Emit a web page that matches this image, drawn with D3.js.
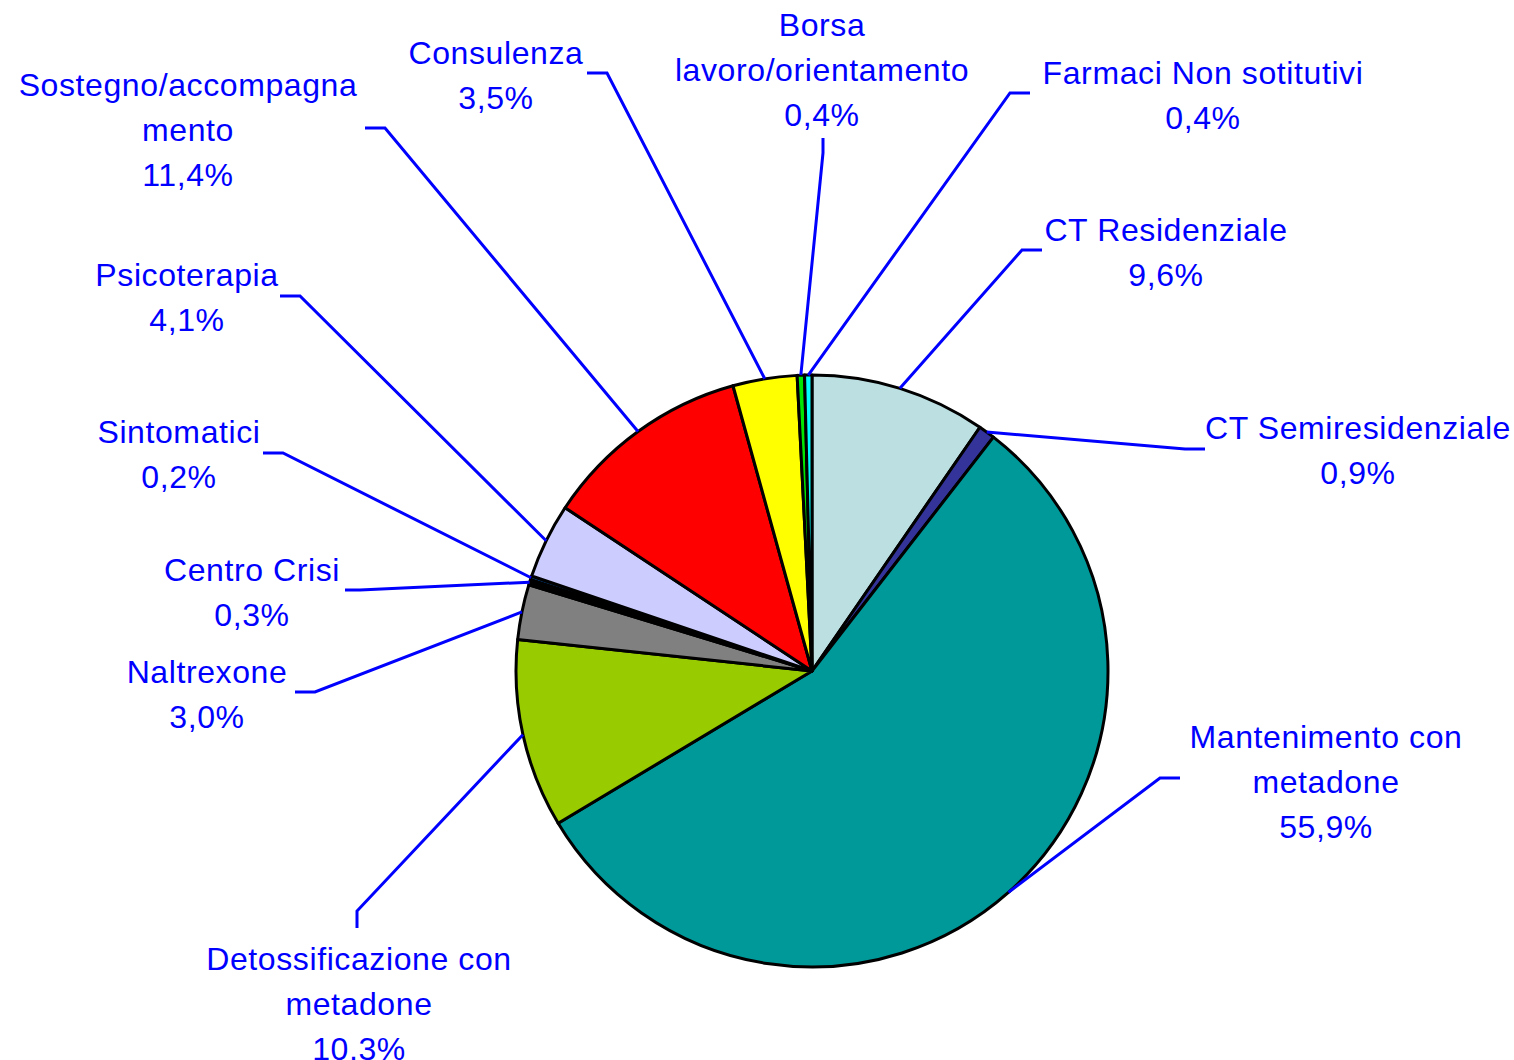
<!DOCTYPE html>
<html>
<head>
<meta charset="utf-8">
<script src="https://cdn.jsdelivr.net/npm/d3@7"></script>
<style>
  html, body { margin: 0; padding: 0; background: #fff; }
  svg { display: block; }
</style>
</head>
<body>
<div id="chart"></div>
<script>
// categorie (clockwise from 12 o'clock), "\n" = label line break
const categories = [
  "CT Residenziale",
  "CT Semiresidenziale",
  "Mantenimento con\nmetadone",
  "Detossificazione con\nmetadone",
  "Naltrexone",
  "Centro Crisi",
  "Sintomatici",
  "Psicoterapia",
  "Sostegno/accompagna\nmento",
  "Consulenza",
  "Borsa\nlavoro/orientamento",
  "Farmaci Non sotitutivi"
];
const values = [9.6, 0.9, 55.9, 10.3, 3.0, 0.3, 0.2, 4.1, 11.4, 3.5, 0.4, 0.4];
const colors = ["#BCE0E2", "#333399", "#009999", "#99CC00", "#808080", "#000000",
                "#0066CC", "#CCCCFF", "#FF0000", "#FFFF00", "#00E600", "#00FFFF"];

// posizione delle etichette (trascinate a mano nell'originale): [testoX, primaRigaY, gomito, fine]
const labelLayout = [
  { x: 1166, y: 230, elbow: [1022, 250], end: [1042, 250] },
  { x: 1358, y: 428, elbow: [1185, 449], end: [1205, 449] },
  { x: 1326, y: 737, elbow: [1160, 778], end: [1180, 778] },
  { x: 359,  y: 959, elbow: [357, 911],  end: [357, 928] },
  { x: 207,  y: 672, elbow: [315, 692],  end: [295, 692] },
  { x: 252,  y: 570, elbow: [360, 590],  end: [345, 590] },
  { x: 179,  y: 432, elbow: [283, 453],  end: [263, 453] },
  { x: 187,  y: 275, elbow: [300, 296],  end: [280, 296] },
  { x: 188,  y: 85,  elbow: [385, 128],  end: [365, 128] },
  { x: 496,  y: 53,  elbow: [607, 73],   end: [587, 73] },
  { x: 822,  y: 25,  elbow: [823, 153],  end: [823, 138] },
  { x: 1203, y: 73,  elbow: [1010, 93],  end: [1030, 93] }
];

const width = 1514, height = 1060;
const cx = 812, cy = 671, radius = 296;
const lineHeight = 45;
const textColor = "#0000FF";

const data = categories.map((c, i) => ({ name: c, value: values[i], color: colors[i], layout: labelLayout[i] }));

const fmt = v => d3.format(".1f")(v).replace(".", ",") + "%";

const svg = d3.select("#chart").append("svg")
  .attr("width", width)
  .attr("height", height)
  .attr("viewBox", [0, 0, width, height]);

const pie = d3.pie().sort(null).value(d => d.value);
const arcs = pie(data);

const arc = d3.arc().innerRadius(0).outerRadius(radius);
const edgeArc = d3.arc().innerRadius(radius).outerRadius(radius);

const g = svg.append("g").attr("transform", `translate(${cx},${cy})`);

g.selectAll("path.slice")
  .data(arcs)
  .join("path")
  .attr("class", "slice")
  .attr("d", arc)
  .attr("fill", d => d.data.color)
  .attr("stroke", "#000")
  .attr("stroke-width", 3)
  .attr("stroke-linejoin", "round");

// linee guida: bordo della fetta -> gomito -> fine
const line = d3.line();
svg.append("g")
  .selectAll("path")
  .data(arcs)
  .join("path")
  .attr("d", d => {
    const [ex, ey] = edgeArc.centroid(d);
    return line([[cx + ex, cy + ey], d.data.layout.elbow, d.data.layout.end]);
  })
  .attr("fill", "none")
  .attr("stroke", textColor)
  .attr("stroke-width", 3);

const labels = svg.append("g")
  .attr("font-family", "'Liberation Sans', Arial, sans-serif")
  .attr("font-size", 32)
  .attr("letter-spacing", "0.6px")
  .attr("fill", textColor)
  .attr("text-anchor", "middle");

labels.selectAll("text")
  .data(arcs)
  .join("text")
  .attr("x", d => d.data.layout.x)
  .attr("y", d => d.data.layout.y)
  .each(function(d) {
    const lines = d.data.name.split("\n").concat([fmt(d.data.value)]);
    d3.select(this).selectAll("tspan")
      .data(lines)
      .join("tspan")
      .attr("x", d.data.layout.x)
      .attr("y", (_, i) => d.data.layout.y + 3 + i * lineHeight)
      .attr("dominant-baseline", "middle")
      .text(t => t);
  });
</script>
</body>
</html>
